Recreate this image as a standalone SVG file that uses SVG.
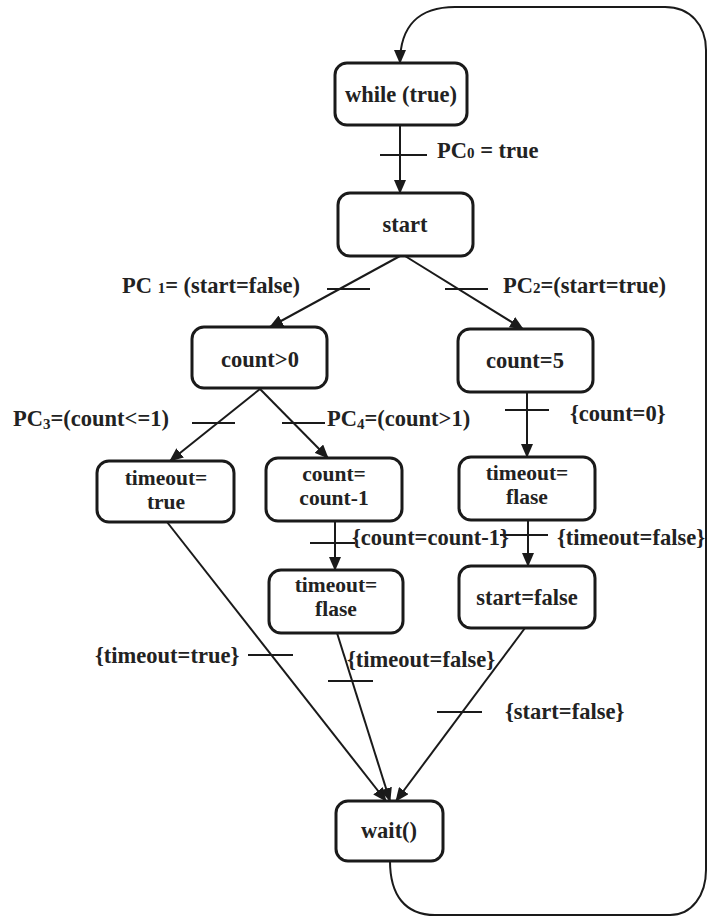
<svg xmlns="http://www.w3.org/2000/svg" width="710" height="918" viewBox="0 0 710 918">
<defs>
<style>
.box{fill:#fff;stroke:#1a1a1a;stroke-width:3}
.t{font-family:"Liberation Serif","Times New Roman",serif;font-weight:bold;font-size:22.5px;fill:#222}
.t2{font-size:21.5px}
.c{text-anchor:middle}
.ln{fill:none;stroke:#1a1a1a;stroke-width:2}
.tk{stroke:#1a1a1a;stroke-width:2}
.sub{font-size:15px}
</style>
<marker id="ah" markerWidth="14" markerHeight="12" refX="13" refY="6" orient="auto" markerUnits="userSpaceOnUse">
<path d="M0,0 L14,6 L0,12 Z" fill="#1a1a1a"/>
</marker>
</defs>
<rect width="710" height="918" fill="#fff"/>
<g id="connectors">
<path class="ln" d="M390,861 C390,895 405,915 435,915 L670,915 C692,915 706,895 706,870 L706,50 C706,25 690,7 665,7 L455,7 C420,7 400,25 400,63" marker-end="url(#ah)"/>
<line class="ln" x1="400" y1="125" x2="400" y2="193" marker-end="url(#ah)"/>
<line class="tk" x1="380" y1="155" x2="427" y2="155"/>
<line class="ln" x1="400" y1="256" x2="270" y2="327" marker-end="url(#ah)"/>
<line class="tk" x1="327" y1="289" x2="370" y2="289"/>
<line class="ln" x1="405" y1="256" x2="523" y2="329" marker-end="url(#ah)"/>
<line class="tk" x1="445" y1="289" x2="488" y2="289"/>
<line class="ln" x1="260" y1="389" x2="170" y2="461" marker-end="url(#ah)"/>
<line class="tk" x1="192" y1="423" x2="235" y2="423"/>
<line class="ln" x1="260" y1="389" x2="328" y2="458" marker-end="url(#ah)"/>
<line class="tk" x1="282" y1="423" x2="325" y2="423"/>
<line class="ln" x1="527" y1="392" x2="527" y2="457" marker-end="url(#ah)"/>
<line class="tk" x1="505" y1="410" x2="549" y2="410"/>
<line class="ln" x1="528" y1="520" x2="528" y2="566" marker-end="url(#ah)"/>
<line class="tk" x1="500" y1="535" x2="548" y2="535"/>
<line class="ln" x1="335" y1="521" x2="335" y2="570" marker-end="url(#ah)"/>
<line class="tk" x1="310" y1="543" x2="355" y2="543"/>
<line class="ln" x1="167" y1="522" x2="386" y2="801" marker-end="url(#ah)"/>
<line class="tk" x1="248" y1="655" x2="293" y2="655"/>
<line class="ln" x1="337" y1="633" x2="390" y2="801" marker-end="url(#ah)"/>
<line class="tk" x1="328" y1="681" x2="373" y2="681"/>
<line class="ln" x1="525" y1="628" x2="396" y2="801" marker-end="url(#ah)"/>
<line class="tk" x1="437" y1="712" x2="482" y2="712"/>
</g>
<g id="labels">
<text class="t" x="437" y="158">PC<tspan class="sub">0</tspan> = true</text>
<text class="t" x="122" y="293">PC <tspan class="sub">1</tspan>= (start=false)</text>
<text class="t" x="503" y="293">PC<tspan class="sub">2</tspan>=(start=true)</text>
<text class="t" x="13" y="426">PC<tspan class="sub" dy="3">3</tspan><tspan dy="-3">=(count&lt;=1)</tspan></text>
<text class="t" x="327" y="426">PC<tspan class="sub" dy="3">4</tspan><tspan dy="-3">=(count&gt;1)</tspan></text>
<text class="t" x="570" y="421">{count=0}</text>
<text class="t" x="352" y="545">{count=count-1}</text>
<text class="t" x="557" y="545">{timeout=false}</text>
<text class="t" x="95" y="663">{timeout=true}</text>
<text class="t" x="347" y="667">{timeout=false}</text>
<text class="t" x="505" y="719">{start=false}</text>
</g>
<g id="n_while"><rect class="box" x="335" y="63" width="132" height="62" rx="12"/><text class="t c" x="401" y="102">while (true)</text></g>
<g id="n_start"><rect class="box" x="338" y="193" width="135" height="63" rx="12"/><text class="t c" x="405" y="232">start</text></g>
<g id="n_count_gt0"><rect class="box" x="192" y="327" width="135" height="61" rx="12"/><text class="t c" x="260" y="367">count&gt;0</text></g>
<g id="n_count5"><rect class="box" x="458" y="329" width="135" height="63" rx="12"/><text class="t c" x="525" y="368">count=5</text></g>
<g id="n_timeout_true"><rect class="box" x="97" y="461" width="137" height="61" rx="12"/><text class="t t2 c" x="166" y="485">timeout=</text><text class="t t2 c" x="166" y="509">true</text></g>
<g id="n_count_dec"><rect class="box" x="266" y="458" width="136" height="63" rx="12"/><text class="t t2 c" x="334" y="481">count=</text><text class="t t2 c" x="334" y="505">count-1</text></g>
<g id="n_timeout_flase_r"><rect class="box" x="459" y="457" width="136" height="63" rx="12"/><text class="t t2 c" x="527" y="480">timeout=</text><text class="t t2 c" x="527" y="504">flase</text></g>
<g id="n_timeout_flase_m"><rect class="box" x="269" y="570" width="134" height="63" rx="12"/><text class="t t2 c" x="336" y="592">timeout=</text><text class="t t2 c" x="336" y="616">flase</text></g>
<g id="n_start_false"><rect class="box" x="459" y="566" width="136" height="62" rx="12"/><text class="t c" x="527" y="605">start=false</text></g>
<g id="n_wait"><rect class="box" x="336" y="801" width="107" height="60" rx="12"/><text class="t c" x="389" y="838">wait()</text></g>
</svg>
